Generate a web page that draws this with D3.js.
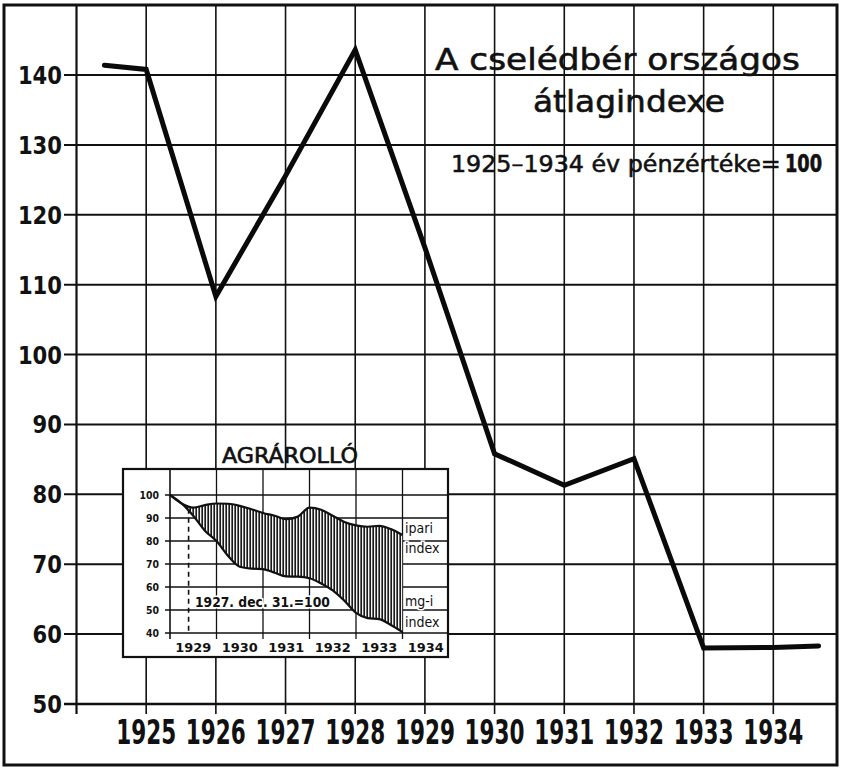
<!DOCTYPE html>
<html>
<head>
<meta charset="utf-8">
<script src="https://cdn.jsdelivr.net/npm/d3@7/dist/d3.min.js"></script>
<style>
  html, body { margin: 0; padding: 0; background: #fff; }
  svg { display: block; }
  text { fill: #111; }
</style>
</head>
<body>
<svg id="chart" width="841" height="771"></svg>
<script>
// ---------------- DATA ----------------
// Main chart: national average index of servants' wages
const yearTicks = [1925, 1926, 1927, 1928, 1929, 1930, 1931, 1932, 1933, 1934];
const yTicks = [50, 60, 70, 80, 90, 100, 110, 120, 130, 140];
const wageYears = [1924.4, 1925, 1926, 1927, 1928, 1929, 1930, 1931, 1932, 1933, 1934, 1934.65];
const wageIndex = [141.4, 140.8, 108.3, 125.6, 143.6, 115.3, 85.8, 81.3, 85.1, 58.0, 58.1, 58.3];

const titleLines = ["A cselédbér országos", "átlagindexe"];
const subtitleText = "1925–1934 év pénzértéke=";
const subtitleBold = "100";

// Inset chart: "Agrárolló" (agrarian price scissors)
const insetTitle = "AGRÁROLLÓ";
const insetYears = [1929, 1930, 1931, 1932, 1933, 1934];
const insetYTicks = [40, 50, 60, 70, 80, 90, 100];
const insetT = [1929.0, 1929.25, 1929.5, 1929.75, 1930.0, 1930.25, 1930.5, 1930.75,
                1931.0, 1931.25, 1931.5, 1931.75, 1932.0, 1932.25, 1932.5, 1932.75,
                1933.0, 1933.25, 1933.5, 1933.75, 1934.0];
const industrialIndex = [100, 96.3, 94.5, 95.6, 96.3, 96.2, 95.3, 93.8,
                         92.2, 91.0, 89.5, 90.6, 94.5, 93.6, 91.0, 88.3,
                         86.8, 86.2, 86.6, 85.2, 82.6];
const agriculturalIndex = [100, 96.3, 91.0, 84.5, 80.0, 73.5, 68.8, 68.0,
                           67.8, 66.2, 64.6, 64.5, 63.8, 61.5, 58.5, 54.0,
                           48.8, 46.5, 46.0, 43.5, 40.4];
const baseMarkT = 1929.4;
const baseNote = "1927. dec. 31.=100";
const insetLabels = [["ipari", "index"], ["mg-i", "index"]];

// ---------------- DRAWING ----------------
const svg = d3.select("#chart");
const W = 841, H = 771;
const hand = "'DejaVu Sans Condensed', 'DejaVu Sans', sans-serif";

svg.append("rect").attr("width", W).attr("height", H).attr("fill", "#fff");

// text squeezed horizontally to a given width (hand-lettered look)
function fitText(g, str, left, baseline, width, opts) {
  const t = g.append("text").attr("x", 0).attr("y", 0)
    .attr("font-family", opts.family || hand)
    .attr("font-size", opts.size)
    .attr("font-weight", opts.weight || "normal")
    .text(str);
  if (opts.stroke) t.attr("stroke", opts.stroke).attr("stroke-width", opts.sw || 0.5);
  if (opts.halo) t.attr("stroke", "#fff").attr("stroke-width", 3).attr("paint-order", "stroke");
  const n = t.node().getComputedTextLength();
  t.attr("transform", `translate(${left},${baseline}) scale(${width / n},1)`);
  return t;
}

const defs = svg.append("defs");
const pat = defs.append("pattern").attr("id", "hatch")
  .attr("patternUnits", "userSpaceOnUse").attr("width", 3).attr("height", 6);
pat.append("rect").attr("width", 3).attr("height", 6).attr("fill", "#fff");
pat.append("line").attr("x1", 1.2).attr("x2", 1.2).attr("y1", 0).attr("y2", 6)
  .attr("stroke", "#1a1a1a").attr("stroke-width", 1.7);

const x = d3.scaleLinear().domain([1924, 1935]).range([76.5, 843]);
const y = d3.scaleLinear().domain([50, 140]).range([704, 75]);
const gridTop = 6, axisBottom = 714;

// horizontal grid lines + ticks
svg.append("g").selectAll("line").data(yTicks).join("line")
  .attr("x1", 64).attr("x2", 836)
  .attr("y1", d => y(d)).attr("y2", d => y(d))
  .attr("stroke", "#111").attr("stroke-width", d => d === 50 ? 2.6 : 2);

// vertical grid lines
svg.append("g").selectAll("line").data([1924].concat(yearTicks)).join("line")
  .attr("x1", d => x(d)).attr("x2", d => x(d))
  .attr("y1", gridTop).attr("y2", axisBottom)
  .attr("stroke", "#111").attr("stroke-width", d => d === 1924 ? 2.2 : 1.6);

// y labels
const yLab = svg.append("g");
yTicks.forEach(d => {
  const w = String(d).length * 14.7;
  fitText(yLab, String(d), 62 - w, y(d) + 9, w, { size: 25, weight: "bold" });
});

// x labels
const xLab = svg.append("g");
yearTicks.forEach(d => {
  fitText(xLab, String(d), x(d) - 30, 744, 60, { size: 33, weight: "bold" });
});

// title
const tg = svg.append("g");
fitText(tg, titleLines[0], 435, 70, 365, { family: "'DejaVu Sans', sans-serif", size: 31, stroke: "#111", sw: 0.6 });
fitText(tg, titleLines[1], 533, 112, 192, { family: "'DejaVu Sans', sans-serif", size: 31, stroke: "#111", sw: 0.6 });
fitText(tg, subtitleText, 451, 172, 330, { size: 23, stroke: "#111", sw: 0.5 });
fitText(tg, subtitleBold, 785, 172, 37, { size: 24, weight: "bold", stroke: "#111", sw: 0.6 });

// main line
const wagePts = wageYears.map((t, i) => [t, wageIndex[i]]);
svg.append("path").datum(wagePts)
  .attr("d", d3.line().x(d => x(d[0])).y(d => y(d[1])))
  .attr("fill", "none").attr("stroke", "#0a0a0a").attr("stroke-width", 5)
  .attr("stroke-linejoin", "miter").attr("stroke-linecap", "round");

// ---------------- INSET ----------------
const box = { x0: 123, y0: 469, x1: 448, y1: 657 };
const ix = d3.scaleLinear().domain([1929, 1935]).range([170, 449]);
const iy = d3.scaleLinear().domain([40, 100]).range([633, 495]);

fitText(svg, insetTitle, 222, 463, 136, { size: 21, stroke: "#111", sw: 0.6 });

svg.append("rect").attr("x", box.x0).attr("y", box.y0)
  .attr("width", box.x1 - box.x0).attr("height", box.y1 - box.y0)
  .attr("fill", "#fff").attr("stroke", "#111").attr("stroke-width", 2.2);

defs.append("clipPath").attr("id", "boxclip").append("rect")
  .attr("x", box.x0).attr("y", box.y0)
  .attr("width", box.x1 - box.x0).attr("height", box.y1 - box.y0);

const inset = svg.append("g").attr("clip-path", "url(#boxclip)");

// inset horizontal grid
inset.append("g").selectAll("line").data(insetYTicks).join("line")
  .attr("x1", ix(1929) - 5).attr("x2", box.x1)
  .attr("y1", d => iy(d)).attr("y2", d => iy(d))
  .attr("stroke", "#111").attr("stroke-width", 1.4);

// inset vertical grid
inset.append("g").selectAll("line").data(insetYears).join("line")
  .attr("x1", d => ix(d)).attr("x2", d => ix(d))
  .attr("y1", box.y0).attr("y2", iy(40) + 6)
  .attr("stroke", "#111").attr("stroke-width", d => d === 1929 ? 1.6 : 1.3);

// hatched scissors area
const scis = insetT.map((t, i) => ({ t, hi: industrialIndex[i], lo: agriculturalIndex[i] }));
inset.append("path").datum(scis)
  .attr("d", d3.area().x(d => ix(d.t)).y0(d => iy(d.lo)).y1(d => iy(d.hi)).curve(d3.curveMonotoneX))
  .attr("fill", "url(#hatch)").attr("stroke", "none");

const curveLine = key => d3.line().x(d => ix(d.t)).y(d => iy(d[key])).curve(d3.curveMonotoneX);
inset.append("path").datum(scis).attr("d", curveLine("hi"))
  .attr("fill", "none").attr("stroke", "#111").attr("stroke-width", 2.2);
inset.append("path").datum(scis).attr("d", curveLine("lo"))
  .attr("fill", "none").attr("stroke", "#111").attr("stroke-width", 2.2);

// dashed base marker
inset.append("line")
  .attr("x1", ix(baseMarkT)).attr("x2", ix(baseMarkT))
  .attr("y1", iy(94)).attr("y2", iy(40))
  .attr("stroke", "#111").attr("stroke-width", 1.6).attr("stroke-dasharray", "5,4");

// inset y labels
const iyLab = inset.append("g");
insetYTicks.forEach(d => {
  const w = String(d).length * 6.5;
  fitText(iyLab, String(d), 159 - w, iy(d) + 4, w, { size: 11, weight: "bold" });
});

// inset x labels
const ixLab = inset.append("g");
insetYears.forEach(d => {
  fitText(ixLab, String(d), ix(d + 0.5) - 18, 652, 36, { size: 13, weight: "bold" });
});

// base note
fitText(inset, baseNote, 195, 607, 135, { size: 14, weight: "bold", halo: true });

// series labels
const labelPos = [[533, 553], [606, 627]];
insetLabels.forEach((lines, i) => {
  lines.forEach((s, j) => {
    inset.append("text").attr("x", 405).attr("y", labelPos[i][j])
      .attr("font-family", hand).attr("font-size", 14)
      .attr("stroke", "#fff").attr("stroke-width", 3).attr("paint-order", "stroke")
      .text(s);
  });
});

// outer border
svg.append("rect").attr("x", 4).attr("y", 5).attr("width", 833).attr("height", 760)
  .attr("fill", "none").attr("stroke", "#111").attr("stroke-width", 3);
</script>
</body>
</html>
